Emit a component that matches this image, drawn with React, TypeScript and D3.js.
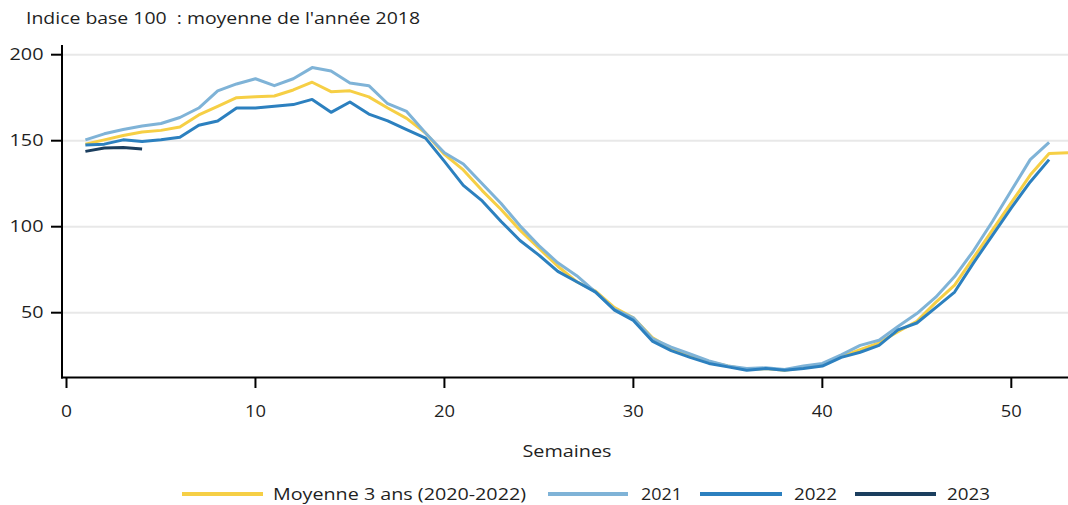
import React from "react";
import * as d3 from "d3";

const weeks53 = d3.range(1, 54);

const moyenne = [148, 150.5, 153, 155, 156, 158, 165, 170, 175, 175.5, 176, 179.5, 184, 178.5, 179, 175.5, 169, 163, 154.5, 142,
  133, 121, 110, 98, 87.5, 77, 68, 62.5, 53, 47, 35.5, 29, 25, 21.5, 19, 17, 17.5, 16.5, 18, 19.5,
  24.5, 28.5, 32.5, 39, 45, 56, 66, 82, 98, 114, 130, 142.5, 143];
const y2021 = [150.5, 154, 156.5, 158.5, 160, 163.5, 169, 179, 183, 186, 182, 186, 192.5, 190.5, 183.5, 182, 171.5, 167, 154.5, 143,
  136.5, 125, 113.5, 100.5, 89, 79, 71.5, 62, 52, 47, 35, 30, 26, 22, 19, 17.5, 18, 17, 19, 20.5,
  25.5, 31, 34, 42, 49.5, 59, 71, 86, 103, 121, 139, 149];
const y2022 = [147.5, 148, 150.5, 149.5, 150.5, 152, 159, 161.5, 169, 169, 170, 171, 174, 166.5, 172.5, 165.5, 161.5, 156.5, 151.5, 138,
  124, 115, 103, 92, 83.5, 74, 68, 62, 51.5, 45.5, 33.5, 28, 24, 20.5, 18.5, 16.5, 17.5, 16.5, 17.5, 19,
  24, 27, 31, 40, 44, 53, 62, 79, 95, 111, 126, 139];
const y2023 = [143.8, 145.7, 146.1, 145.2];

const seriesNames = ["Moyenne 3 ans (2020-2022)", "2021", "2022", "2023"];
const seriesColors = ["#F6CF45", "#7FB3D7", "#2C80BF", "#1B3E5E"];
const seriesData = [moyenne, y2021, y2022, y2023];

const yTicks = [50, 100, 150, 200];
const xTicks = [0, 10, 20, 30, 40, 50];

const FONT = "'Open Sans', 'Noto Sans', sans-serif";
const TXT = "#1f1f1f";
const FS = 16;

export default function App() {
  const W = 1068, H = 505;
  const x = d3.scaleLinear().domain([0, 53]).range([66.5, 1068]);
  const y = d3.scaleLinear().domain([0, 200]).range([398.7, 54.7]);
  const axisLeft = 62;
  const axisBottom = 377.5;
  const axisTop = 45;

  const line = d3.line<number>()
    .x((_, i) => x(weeks53[i]))
    .y((d) => y(d));

  const legendItems = [
    { x1: 182, x2: 263, tx: 273, tw: 253 },
    { x1: 548, x2: 628, tx: 641, tw: 41 },
    { x1: 700, x2: 782, tx: 794, tw: 43 },
    { x1: 855, x2: 936, tx: 947, tw: 43 },
  ];

  return (
    <svg width={W} height={H} style={{ position: "absolute", left: 0, top: 0, background: "#fff" }}
      fontFamily={FONT}>
      <rect width={W} height={H} fill="#fff" />
      <text x={26} y={23.5} fontSize={FS} fill={TXT} style={{ whiteSpace: "pre" }}
        textLength={394} lengthAdjust="spacingAndGlyphs">Indice base 100  : moyenne de l'année 2018</text>

      {yTicks.map((t) => (
        <g key={t}>
          <line x1={axisLeft} x2={W} y1={y(t)} y2={y(t)} stroke="#e8e8e8" strokeWidth={2} />
          <line x1={51} x2={axisLeft} y1={y(t)} y2={y(t)} stroke="#000" strokeWidth={2} />
          <text x={43.5} y={y(t)} dy="0.36em" textAnchor="end" fontSize={FS} fill={TXT}
            textLength={t >= 100 ? 34 : 22.5} lengthAdjust="spacingAndGlyphs">{t}</text>
        </g>
      ))}

      {seriesData.map((d, i) => (
        <path key={i} d={line(d) || ""} fill="none" stroke={seriesColors[i]} strokeWidth={3}
          strokeLinejoin="round" strokeLinecap="butt" />
      ))}

      <line x1={axisLeft} x2={axisLeft} y1={axisTop} y2={axisBottom + 1} stroke="#000" strokeWidth={2} />
      <line x1={axisLeft - 1} x2={W} y1={axisBottom} y2={axisBottom} stroke="#000" strokeWidth={2} />
      {xTicks.map((t) => (
        <g key={t}>
          <line x1={x(t)} x2={x(t)} y1={axisBottom} y2={388} stroke="#000" strokeWidth={2} />
          <text x={x(t)} y={416.5} textAnchor="middle" fontSize={FS} fill={TXT}
            textLength={t === 0 ? 11 : 21} lengthAdjust="spacingAndGlyphs">{t}</text>
        </g>
      ))}
      <text x={567} y={457} textAnchor="middle" fontSize={FS} fill={TXT}
        textLength={89} lengthAdjust="spacingAndGlyphs">Semaines</text>

      {legendItems.map((it, i) => (
        <g key={i}>
          <line x1={it.x1} x2={it.x2} y1={494} y2={494} stroke={seriesColors[i]} strokeWidth={4} />
          <text x={it.tx} y={494} dy="0.36em" fontSize={FS} fill={TXT}
            textLength={it.tw} lengthAdjust="spacingAndGlyphs">{seriesNames[i]}</text>
        </g>
      ))}
    </svg>
  );
}
